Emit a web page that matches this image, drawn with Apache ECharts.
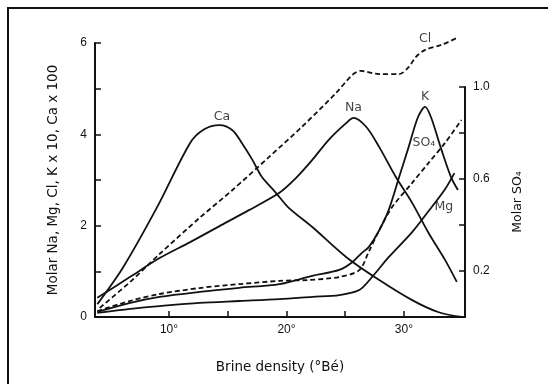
<!DOCTYPE html>
<html lang="en">
<head>
    <meta charset="UTF-8">
    <title>Brine evaporation</title>
    <script src="https://cdn.jsdelivr.net/npm/echarts@6/dist/echarts.min.js"></script>
</head>
<body style="margin:0;background:#fff;">
<div id="main" style="width:548px;height:384px;"></div>
<script type="text/javascript">
    // brine density (°Bé) vs molar concentration
    var caPts = [[3.9,0.28],[6.1,1.09],[9.0,2.41],[11.8,3.81],[13.0,4.11],[14.3,4.20],[15.4,4.09],
        [16.2,3.81],[17.1,3.44],[17.9,3.07],[19.1,2.72],[20.2,2.39],[22.2,1.97],[25.1,1.31],[27.9,0.81],
        [30.7,0.37],[32.9,0.11],[34.9,0.0]];
    var naPts = [[3.9,0.42],[6.7,0.88],[9.2,1.29],[11.8,1.64],[14.3,1.99],[16.8,2.34],[19.4,2.72],
        [20.8,3.04],[22.2,3.44],[23.6,3.88],[25.1,4.25],[25.7,4.36],[26.8,4.16],[27.9,3.72],
        [29.3,3.07],[30.7,2.50],[32.1,1.84],[33.5,1.25],[34.5,0.77]];
    var clPts = [[4.1,0.20],[6.7,0.77],[9.2,1.38],[12.6,2.17],[15.4,2.78],[18.5,3.50],[21.3,4.16],
        [24.2,4.90],[25.6,5.30],[26.3,5.39],[27.9,5.32],[29.6,5.32],[30.4,5.47],[31.0,5.69],
        [31.8,5.85],[33.2,5.96],[34.5,6.11]];
    var kPts = [[3.9,0.11],[6.7,0.31],[9.2,0.44],[12.6,0.55],[16.0,0.64],[19.4,0.72],[22.2,0.90],
        [24.5,1.03],[25.6,1.20],[26.4,1.40],[27.0,1.53],[27.9,1.90],[28.7,2.34],[29.6,3.07],
        [30.4,3.72],[31.2,4.38],[31.8,4.60],[32.3,4.38],[33.2,3.66],[34.0,3.07],[34.6,2.78]];
    var mgPts = [[3.9,0.09],[6.7,0.18],[9.2,0.24],[12.6,0.31],[16.0,0.35],[19.4,0.39],[22.2,0.44],
        [24.5,0.48],[26.2,0.59],[27.3,0.88],[28.7,1.31],[30.7,1.86],[32.1,2.32],[33.5,2.80],[34.3,3.15]];
    // SO4 on the right axis
    var so4Pts = [[3.9,0.026],[6.7,0.070],[9.2,0.100],[12.6,0.126],[16.0,0.143],[19.4,0.157],
        [21.9,0.161],[24.5,0.174],[26.2,0.204],[27.0,0.283],[27.9,0.378],[29.0,0.478],[30.7,0.583],
        [32.1,0.670],[33.5,0.757],[34.9,0.857]];

    var xTicks = [10, 15, 20, 25, 30];
    var xLabels = [10, 20, 30];
    var leftTicks = [0, 1, 2, 3, 4, 5, 6];
    var leftLabels = [0, 2, 4, 6];
    var rightTicks = [0.2, 0.4, 0.6, 0.8, 1.0];
    var rightLabels = [0.2, 0.6, 1.0];

    // curve names placed in data coords
    var curveNames = [
        {name: 'Ca', value: [14.5, 4.38]},
        {name: 'Na', value: [25.7, 4.58]},
        {name: 'K', value: [31.8, 4.82]},
        {name: 'SO₄', value: [31.7, 3.81]},
        {name: 'Mg', value: [33.4, 2.41]},
        {name: 'Cl', value: [31.8, 6.09]}
    ];

    var font = 'Liberation Sans, Arial, sans-serif';
    var wide = 'DejaVu Sans, sans-serif';
    var ink = '#111';

    var chart = echarts.init(document.getElementById('main'));

    function line(pts, dashed, axisIdx) {
        return {
            type: 'line',
            xAxisIndex: axisIdx,
            yAxisIndex: axisIdx,
            data: pts,
            smooth: 0.3,
            symbol: 'none',
            clip: false,
            lineStyle: {color: ink, width: 1.8, type: dashed ? [5, 3] : 'solid'},
            z: 3
        };
    }

    var option = {
        backgroundColor: '#fff',
        animation: false,
        textStyle: {fontFamily: font},
        grid: [
            {left: 95, right: 83, top: 43, bottom: 67},
            {left: 95, right: 83, top: 87, bottom: 67}
        ],
        xAxis: [
            {
                type: 'value', gridIndex: 0, min: 3.7, max: 35.2,
                name: 'Brine density (°Bé)', nameLocation: 'middle', nameGap: 43,
                nameTextStyle: {color: ink, fontSize: 13.5, fontFamily: wide},
                axisLine: {lineStyle: {color: ink, width: 2}},
                axisTick: {inside: true, length: 6, customValues: xTicks, lineStyle: {color: ink, width: 1.5}},
                axisLabel: {customValues: xLabels, color: ink, fontSize: 12, margin: 7,
                    formatter: function (v) { return v + '°'; }},
                splitLine: {show: false}
            },
            {
                type: 'value', gridIndex: 1, min: 3.7, max: 35.2, show: false
            }
        ],
        yAxis: [
            {
                type: 'value', gridIndex: 0, min: 0, max: 6,
                name: 'Molar Na, Mg, Cl, K x 10, Ca x 100', nameLocation: 'middle', nameGap: 35,
                nameTextStyle: {color: ink, fontSize: 13.5, fontFamily: wide},
                axisLine: {show: true, lineStyle: {color: ink, width: 2}},
                axisTick: {inside: true, length: 6, customValues: leftTicks, lineStyle: {color: ink, width: 1.5}},
                axisLabel: {customValues: leftLabels, color: ink, fontSize: 12, margin: 8},
                splitLine: {show: false}
            },
            {
                type: 'value', gridIndex: 1, min: 0, max: 1, position: 'right',
                name: 'Molar SO₄', nameLocation: 'middle', nameGap: 46, nameRotate: 90,
                nameTextStyle: {color: ink, fontSize: 12.5, fontFamily: wide},
                axisLine: {show: true, lineStyle: {color: ink, width: 2}},
                axisTick: {inside: true, length: 6, customValues: rightTicks, lineStyle: {color: ink, width: 1.5}},
                axisLabel: {customValues: rightLabels, color: ink, fontSize: 12, margin: 8,
                    formatter: function (v) { return v.toFixed(1); }},
                splitLine: {show: false}
            }
        ],
        graphic: [
            {type: 'polyline', shape: {points: [[8, 384], [8, 8], [548, 8]]},
                style: {stroke: ink, lineWidth: 2, fill: null}}
        ],
        series: [
            line(caPts, false, 0),
            line(naPts, false, 0),
            line(clPts, true, 0),
            line(kPts, false, 0),
            line(mgPts, false, 0),
            line(so4Pts, true, 1),
            {
                type: 'scatter', xAxisIndex: 0, yAxisIndex: 0,
                data: curveNames, symbolSize: 0, clip: false,
                label: {show: true, position: 'inside', formatter: '{b}',
                    color: ink, fontSize: 12.5, fontFamily: wide},
                z: 4
            }
        ]
    };
    chart.setOption(option);
</script>
</body>
</html>
